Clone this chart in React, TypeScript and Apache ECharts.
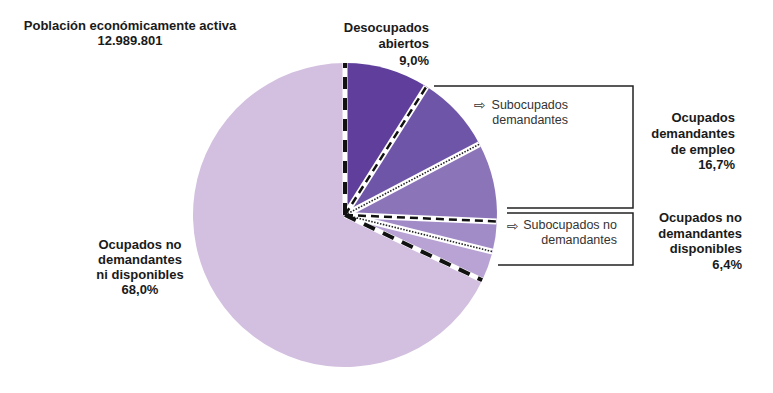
import React, { useEffect, useRef } from "react";
import * as echarts from "echarts";

const sliceNames = [
  "Desocupados abiertos",
  "Subocupados demandantes",
  "Otros ocupados demandantes",
  "Subocupados no demandantes",
  "Otros ocupados no demandantes disponibles",
  "Ocupados no demandantes ni disponibles",
];
const sliceValues = [9.0, 8.3, 8.4, 3.2, 3.2, 68.0];
const sliceColors = ["#5f3f9b", "#6e55a8", "#8c74b8", "#a28cc8", "#b8a3d4", "#d3bfdf"];
// separator style per boundary (boundary i is the start of slice i)
const boundaryStyles = ["bold", "dash", "dot", "dash", "dot", "bold"];

const CX = 345;
const CY = 215;
const R = 152;

export default function App() {
  const ref = useRef<HTMLDivElement>(null);
  useEffect(() => {
    if (!ref.current) return;
    const chart = echarts.init(ref.current, null, { renderer: "svg" });
    const total = sliceValues.reduce((a, b) => a + b, 0);
    const cum: number[] = [];
    let acc = 0;
    for (let i = 0; i < sliceValues.length; i++) {
      cum.push(acc);
      acc += sliceValues[i];
    }
    const boundaries = cum;

    const lineSeries: any[] = [];
    boundaries.forEach((a, i) => {
      const st = boundaryStyles[i];
      lineSeries.push({
        type: "line",
        coordinateSystem: "polar",
        data: [[0, a], [1, a]],
        symbol: "none",
        silent: true,
        z: 3,
        lineStyle: { color: "#ffffff", width: st === "bold" ? 5 : 6, type: "solid" },
      });
    });
    boundaries.forEach((a, i) => {
      const st = boundaryStyles[i];
      const ls =
        st === "bold"
          ? { color: "#111111", width: 4, type: [12, 9] }
          : st === "dash"
          ? { color: "#111111", width: 2.5, type: [8, 5] }
          : { color: "#222222", width: 1.6, type: [1.5, 1.5] };
      lineSeries.push({
        type: "line",
        coordinateSystem: "polar",
        data: [[0, a], [1, a]],
        symbol: "none",
        silent: true,
        z: 4,
        lineStyle: { ...ls, cap: "butt" },
      });
    });

    const bold = {
      fontFamily: "Liberation Sans, Arial, sans-serif",
      fontWeight: "bold",
      fontSize: 13,
      fill: "#1a1a1a",
    };
    const reg = {
      fontFamily: "Liberation Sans, Arial, sans-serif",
      fontWeight: "normal",
      fontSize: 12.5,
      fill: "#333333",
    };
    const arrow = {
      fontFamily: "DejaVu Sans, sans-serif",
      fontSize: 14,
      fill: "#333333",
    };

    chart.setOption({
      animation: false,
      backgroundColor: "#ffffff",
      polar: { center: [CX, CY], radius: R },
      angleAxis: {
        type: "value",
        min: 0,
        max: total,
        startAngle: 90,
        clockwise: true,
        show: false,
      },
      radiusAxis: { type: "value", min: 0, max: 1, show: false },
      series: [
        {
          type: "pie",
          center: [CX, CY],
          radius: [0, R],
          startAngle: 90,
          clockwise: true,
          silent: true,
          label: { show: false },
          labelLine: { show: false },
          itemStyle: { borderWidth: 0 },
          z: 2,
          data: sliceValues.map((v, i) => ({
            name: sliceNames[i],
            value: v,
            itemStyle: { color: sliceColors[i] },
          })),
        },
        ...lineSeries,
      ],
      graphic: [
        {
          type: "polyline",
          shape: { points: [[434, 86], [633, 86], [633, 208], [507, 208]] },
          style: { stroke: "#222222", lineWidth: 1.5, fill: "none" },
        },
        {
          type: "polyline",
          shape: { points: [[507, 213], [633, 213], [633, 265], [498, 265]] },
          style: { stroke: "#222222", lineWidth: 1.5, fill: "none" },
        },
        {
          type: "text",
          x: 130,
          y: 17.5,
          style: {
            ...bold,
            text: "Población económicamente activa\n12.989.801",
            align: "center",
            verticalAlign: "top",
            lineHeight: 15.5,
          },
        },
        {
          type: "text",
          x: 429,
          y: 19.5,
          style: {
            ...bold,
            text: "Desocupados\nabiertos\n9,0%",
            align: "right",
            verticalAlign: "top",
            lineHeight: 16.3,
          },
        },
        {
          type: "text",
          x: 735,
          y: 109.7,
          style: {
            ...bold,
            text: "Ocupados\ndemandantes\nde empleo\n16,7%",
            align: "right",
            verticalAlign: "top",
            lineHeight: 15.8,
          },
        },
        {
          type: "text",
          x: 742,
          y: 209.8,
          style: {
            ...bold,
            text: "Ocupados no\ndemandantes\ndisponibles\n6,4%",
            align: "right",
            verticalAlign: "top",
            lineHeight: 15.5,
          },
        },
        {
          type: "text",
          x: 140,
          y: 237.2,
          style: {
            ...bold,
            text: "Ocupados no\ndemandantes\nni disponibles\n68,0%",
            align: "center",
            verticalAlign: "top",
            lineHeight: 15,
          },
        },
        {
          type: "text",
          x: 568,
          y: 97,
          style: {
            ...reg,
            text: "Subocupados\ndemandantes",
            align: "right",
            verticalAlign: "top",
            lineHeight: 15,
          },
        },
        {
          type: "text",
          x: 617,
          y: 218,
          style: {
            ...reg,
            text: "Subocupados no\ndemandantes",
            align: "right",
            verticalAlign: "top",
            lineHeight: 14.5,
          },
        },
        {
          type: "text",
          x: 474,
          y: 104.5,
          style: { ...arrow, text: "⇨", align: "left", verticalAlign: "middle" },
        },
        {
          type: "text",
          x: 507,
          y: 225.5,
          style: { ...arrow, text: "⇨", align: "left", verticalAlign: "middle" },
        },
      ],
    });
    return () => chart.dispose();
  }, []);
  return (
    <div
      ref={ref}
      style={{ position: "fixed", left: 0, top: 0, width: 773, height: 393 }}
    />
  );
}
